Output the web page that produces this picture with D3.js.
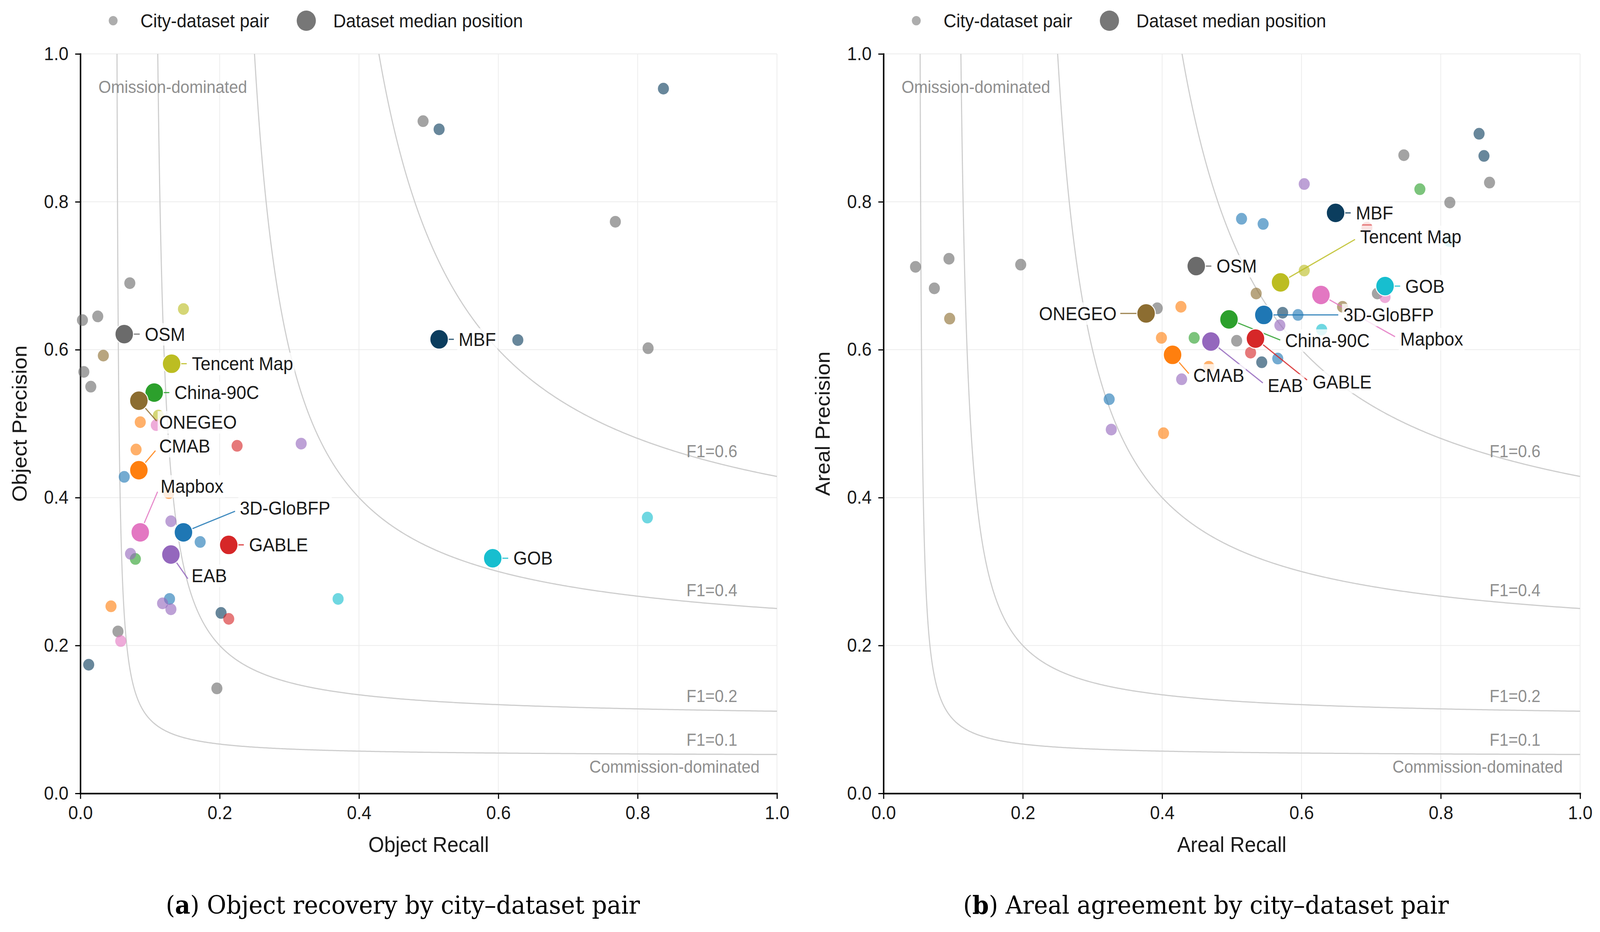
<!DOCTYPE html>
<html>
<head>
<meta charset="utf-8">
<script src="https://cdn.jsdelivr.net/npm/d3@7"></script>
<style>
  html, body { margin: 0; padding: 0; background: #fff; overflow: hidden; }
  #chart { width: 100vw; height: 100vh; }
  svg { display: block; width: 100%; height: 100%; font-family: "Liberation Sans", Arial, Helvetica, sans-serif; }
</style>
</head>
<body>
<div id="chart"></div>
<script>
// ---- data ----
const datasets = ["3D-GloBFP", "CMAB", "China-90C", "EAB", "GABLE", "GOB", "MBF", "Mapbox", "ONEGEO", "OSM", "Tencent Map"];
const datasetColors = ["#1f77b4", "#ff7f0e", "#2ca02c", "#9467bd", "#d62728", "#17becf", "#0b3d5e", "#e377c2", "#8c6d31", "#6b6b6b", "#bcbd22"];
const f1Levels = [0.1, 0.2, 0.4, 0.6];
const tickValues = [0, 0.2, 0.4, 0.6, 0.8, 1.0];

// (a) object recall / precision per city-dataset pair: [dataset, recall, precision]
const objectPairs = [
  ["OSM", 0.071, 0.690], ["OSM", 0.003, 0.640], ["OSM", 0.025, 0.645], ["OSM", 0.005, 0.570], ["OSM", 0.015, 0.550],
  ["OSM", 0.054, 0.219], ["OSM", 0.196, 0.142], ["OSM", 0.492, 0.909], ["OSM", 0.768, 0.773], ["OSM", 0.815, 0.602],
  ["MBF", 0.837, 0.953], ["MBF", 0.515, 0.898], ["MBF", 0.628, 0.613], ["MBF", 0.202, 0.244], ["MBF", 0.012, 0.174],
  ["GOB", 0.814, 0.373], ["GOB", 0.370, 0.263],
  ["Tencent Map", 0.148, 0.655], ["Tencent Map", 0.112, 0.511],
  ["China-90C", 0.079, 0.317],
  ["ONEGEO", 0.033, 0.592],
  ["CMAB", 0.086, 0.502], ["CMAB", 0.080, 0.465], ["CMAB", 0.044, 0.253], ["CMAB", 0.127, 0.406],
  ["Mapbox", 0.109, 0.498], ["Mapbox", 0.058, 0.206],
  ["3D-GloBFP", 0.063, 0.428], ["3D-GloBFP", 0.172, 0.340], ["3D-GloBFP", 0.128, 0.263],
  ["GABLE", 0.225, 0.470], ["GABLE", 0.213, 0.236],
  ["EAB", 0.317, 0.473], ["EAB", 0.130, 0.368], ["EAB", 0.072, 0.324], ["EAB", 0.118, 0.257], ["EAB", 0.130, 0.249]
];
const objectMedians = [
  ["3D-GloBFP", 0.148, 0.353], ["CMAB", 0.084, 0.437], ["China-90C", 0.106, 0.542], ["EAB", 0.130, 0.323],
  ["GABLE", 0.213, 0.336], ["GOB", 0.592, 0.318], ["MBF", 0.515, 0.614], ["Mapbox", 0.086, 0.353],
  ["ONEGEO", 0.084, 0.531], ["OSM", 0.063, 0.621], ["Tencent Map", 0.131, 0.581]
];

// (b) areal recall / precision per city-dataset pair
const arealPairs = [
  ["OSM", 0.046, 0.712], ["OSM", 0.094, 0.723], ["OSM", 0.197, 0.715], ["OSM", 0.073, 0.683], ["OSM", 0.393, 0.656],
  ["OSM", 0.507, 0.612], ["OSM", 0.747, 0.863], ["OSM", 0.870, 0.826], ["OSM", 0.813, 0.799], ["OSM", 0.709, 0.676],
  ["ONEGEO", 0.095, 0.642], ["ONEGEO", 0.535, 0.676], ["ONEGEO", 0.659, 0.658],
  ["CMAB", 0.427, 0.658], ["CMAB", 0.399, 0.616], ["CMAB", 0.402, 0.487], ["CMAB", 0.467, 0.577],
  ["China-90C", 0.446, 0.616], ["China-90C", 0.770, 0.817],
  ["EAB", 0.428, 0.560], ["EAB", 0.327, 0.492], ["EAB", 0.569, 0.633], ["EAB", 0.604, 0.824],
  ["3D-GloBFP", 0.324, 0.533], ["3D-GloBFP", 0.595, 0.647], ["3D-GloBFP", 0.566, 0.588], ["3D-GloBFP", 0.514, 0.777], ["3D-GloBFP", 0.545, 0.770],
  ["MBF", 0.573, 0.650], ["MBF", 0.543, 0.583], ["MBF", 0.855, 0.892], ["MBF", 0.862, 0.862],
  ["Tencent Map", 0.604, 0.707],
  ["Mapbox", 0.720, 0.671],
  ["GOB", 0.629, 0.627], ["GOB", 0.812, 0.747],
  ["GABLE", 0.527, 0.596], ["GABLE", 0.694, 0.765]
];
const arealMedians = [
  ["3D-GloBFP", 0.546, 0.647], ["CMAB", 0.415, 0.593], ["China-90C", 0.496, 0.641], ["EAB", 0.470, 0.611],
  ["GABLE", 0.534, 0.615], ["GOB", 0.720, 0.686], ["MBF", 0.649, 0.785], ["Mapbox", 0.628, 0.674],
  ["ONEGEO", 0.377, 0.649], ["OSM", 0.449, 0.713], ["Tencent Map", 0.570, 0.691]
];

// ---- layout ----
const width = 4341, height = 2387;
const plot = {left: 218, right: 2108, top: 138, bottom: 2032};
const panelShift = 2179;

// label offsets in px from the median mark: [text dx, text dy, leader end dx, leader end dy, anchor]
const objectLabels = {
  "OSM": [56, 0, 42, 0, "start"], "Tencent Map": [55, 0, 41, 0, "start"], "China-90C": [55, 0, 41, 0, "start"],
  "ONEGEO": [55, 55, 48, 52, "start"], "CMAB": [55, -62, 45, -50, "start"], "Mapbox": [55, -118, 47, -104, "start"],
  "3D-GloBFP": [153, -62, 140, -54, "start"], "GABLE": [55, 0, 41, 0, "start"], "EAB": [56, 54, 46, 62, "start"],
  "MBF": [53, 0, 40, 0, "start"], "GOB": [56, 0, 42, 0, "start"]
};
const arealLabels = {
  "OSM": [55, 0, 41, 0, "start"], "ONEGEO": [-80, 0, -70, 0, "end"], "Tencent Map": [216, -117, 202, -110, "start"],
  "MBF": [55, 0, 41, 0, "start"], "GOB": [55, 0, 41, 0, "start"], "3D-GloBFP": [216, 0, 202, 0, "start"],
  "Mapbox": [215, 113, 201, 107, "start"], "China-90C": [152, 54, 139, 53, "start"], "GABLE": [155, 111, 140, 106, "start"],
  "EAB": [154, 112, 141, 106, "start"], "CMAB": [56, 52, 44, 48, "start"]
};

const color = d3.scaleOrdinal(datasets, datasetColors);

// the viewport of the renderer is not exactly 4341x2387, so stretch the drawing to fill it
const svg = d3.select("#chart").append("svg")
  .attr("viewBox", [0, 0, width, height])
  .attr("preserveAspectRatio", "none");

function drawPanel(id, shift, pairs, medians, labels, xTitle, yTitle, capLetter, capText) {
  const g = svg.append("g").attr("transform", `translate(${shift},0)`);
  const x = d3.scaleLinear([0, 1], [plot.left, plot.right]);
  const y = d3.scaleLinear([0, 1], [plot.bottom, plot.top]);

  g.append("clipPath").attr("id", "clip-" + id)
    .append("rect").attr("x", x(0)).attr("y", y(1)).attr("width", x(1) - x(0)).attr("height", y(0) - y(1));

  // grid
  const grid = g.append("g").attr("stroke", "#ececec").attr("stroke-width", 2);
  grid.selectAll(".gx").data(tickValues).join("line")
    .attr("x1", d => x(d)).attr("x2", d => x(d)).attr("y1", y(0)).attr("y2", y(1));
  grid.selectAll(".gy").data(tickValues).join("line")
    .attr("y1", d => y(d)).attr("y2", d => y(d)).attr("x1", x(0)).attr("x2", x(1));

  // F1 iso-lines: P = F*R / (2R - F), starting where P = 1
  const iso = f => {
    const r0 = f / (2 - f);
    return d3.range(0, 1.00001, 1 / 600).map(t => {
      const r = r0 + (1 - r0) * t * t * t;
      return [r, t === 0 ? 1 : f * r / (2 * r - f)];
    });
  };
  const line = d3.line().x(d => x(d[0])).y(d => y(d[1]));
  g.append("g").attr("clip-path", `url(#clip-${id})`)
    .selectAll("path").data(f1Levels).join("path")
    .attr("d", f => line(iso(f)))
    .attr("fill", "none").attr("stroke", "#cdcdcd").attr("stroke-width", 3);

  g.append("g").attr("fill", "#8f8f8f").attr("font-size", 44)
    .selectAll("text").data(f1Levels).join("text")
    .attr("x", x(0.87))
    .attr("y", f => y(f * 0.93 / (1.86 - f)) - 22)
    .text(f => "F1=" + f);

  g.append("text").attr("x", x(0) + 49).attr("y", 238)
    .attr("fill", "#8f8f8f").attr("font-size", 44).text("Omission-dominated");
  g.append("text").attr("x", x(1) - 47).attr("y", 1979).attr("text-anchor", "end")
    .attr("fill", "#8f8f8f").attr("font-size", 44).text("Commission-dominated");

  // axes
  const fmt = d3.format(".1f");
  const xAxis = g.append("g").attr("transform", `translate(0,${y(0)})`)
    .call(d3.axisBottom(x).tickValues(tickValues).tickFormat(fmt).tickSize(14).tickSizeOuter(0).tickPadding(18));
  const yAxis = g.append("g").attr("transform", `translate(${x(0)},0)`)
    .call(d3.axisLeft(y).tickValues(tickValues).tickFormat(fmt).tickSize(14).tickSizeOuter(0).tickPadding(18));
  [xAxis, yAxis].forEach(a => {
    a.attr("font-size", 48).attr("font-family", null);
    a.select(".domain").attr("stroke", "#000").attr("stroke-width", 4).attr("stroke-linecap", "square");
    a.selectAll(".tick line").attr("stroke", "#000").attr("stroke-width", 3);
    a.selectAll(".tick text").attr("fill", "#1a1a1a");
  });

  g.append("text").attr("x", (x(0) + x(1)) / 2).attr("y", 2182)
    .attr("text-anchor", "middle").attr("font-size", 55).attr("fill", "#1a1a1a").text(xTitle);
  g.append("text").attr("transform", `translate(72,${(y(0) + y(1)) / 2}) rotate(-90)`)
    .attr("text-anchor", "middle").attr("font-size", 55).attr("fill", "#1a1a1a").text(yTitle);

  // city-dataset pairs
  g.append("g").selectAll("circle").data(pairs).join("circle")
    .attr("cx", d => x(d[1])).attr("cy", d => y(d[2])).attr("r", 15)
    .attr("fill", d => color(d[0])).attr("fill-opacity", 0.62);

  // leader lines
  g.append("g").selectAll("line").data(medians).join("line")
    .attr("x1", d => x(d[1])).attr("y1", d => y(d[2]))
    .attr("x2", d => x(d[1]) + labels[d[0]][2]).attr("y2", d => y(d[2]) + labels[d[0]][3])
    .attr("stroke", d => color(d[0])).attr("stroke-width", 3).attr("stroke-opacity", 0.85);

  // dataset medians
  g.append("g").selectAll("circle").data(medians).join("circle")
    .attr("cx", d => x(d[1])).attr("cy", d => y(d[2])).attr("r", 25)
    .attr("fill", d => color(d[0])).attr("stroke", "#fff").attr("stroke-width", 2.5);

  // labels with light background box
  const lab = g.append("g").selectAll("g").data(medians).join("g");
  const txt = lab.append("text")
    .attr("x", d => x(d[1]) + labels[d[0]][0]).attr("y", d => y(d[2]) + labels[d[0]][1])
    .attr("dy", "0.35em").attr("text-anchor", d => labels[d[0]][4])
    .attr("font-size", 48).attr("fill", "#1a1a1a").text(d => d[0]);
  txt.each(function() {
    const b = this.getBBox();
    d3.select(this.parentNode).insert("rect", "text")
      .attr("x", b.x - 4).attr("y", b.y - 2).attr("width", b.width + 8).attr("height", b.height + 4)
      .attr("fill", "#fff").attr("fill-opacity", 0.8);
  });

  // legend
  const lg = g.append("g").attr("font-size", 48).attr("fill", "#1a1a1a");
  lg.append("circle").attr("cx", 307).attr("cy", 53).attr("r", 12).attr("fill", "#7a7a7a").attr("fill-opacity", 0.62);
  lg.append("text").attr("x", 381).attr("y", 53).attr("dy", "0.35em").text("City-dataset pair");
  lg.append("circle").attr("cx", 831).attr("cy", 53).attr("r", 26).attr("fill", "#777");
  lg.append("text").attr("x", 904).attr("y", 53).attr("dy", "0.35em").text("Dataset median position");

  // caption
  const cap = g.append("text").attr("x", 1093).attr("y", 2340).attr("text-anchor", "middle")
    .attr("font-family", "'DejaVu Serif', 'Liberation Serif', serif").attr("font-size", 64).attr("fill", "#000");
  cap.append("tspan").text("(");
  cap.append("tspan").attr("font-weight", "bold").text(capLetter);
  cap.append("tspan").text(") " + capText);
}

drawPanel("a", 0, objectPairs, objectMedians, objectLabels, "Object Recall", "Object Precision",
  "a", "Object recovery by city\u2013dataset pair");
drawPanel("b", panelShift, arealPairs, arealMedians, arealLabels, "Areal Recall", "Areal Precision",
  "b", "Areal agreement by city\u2013dataset pair");
</script>
</body>
</html>
